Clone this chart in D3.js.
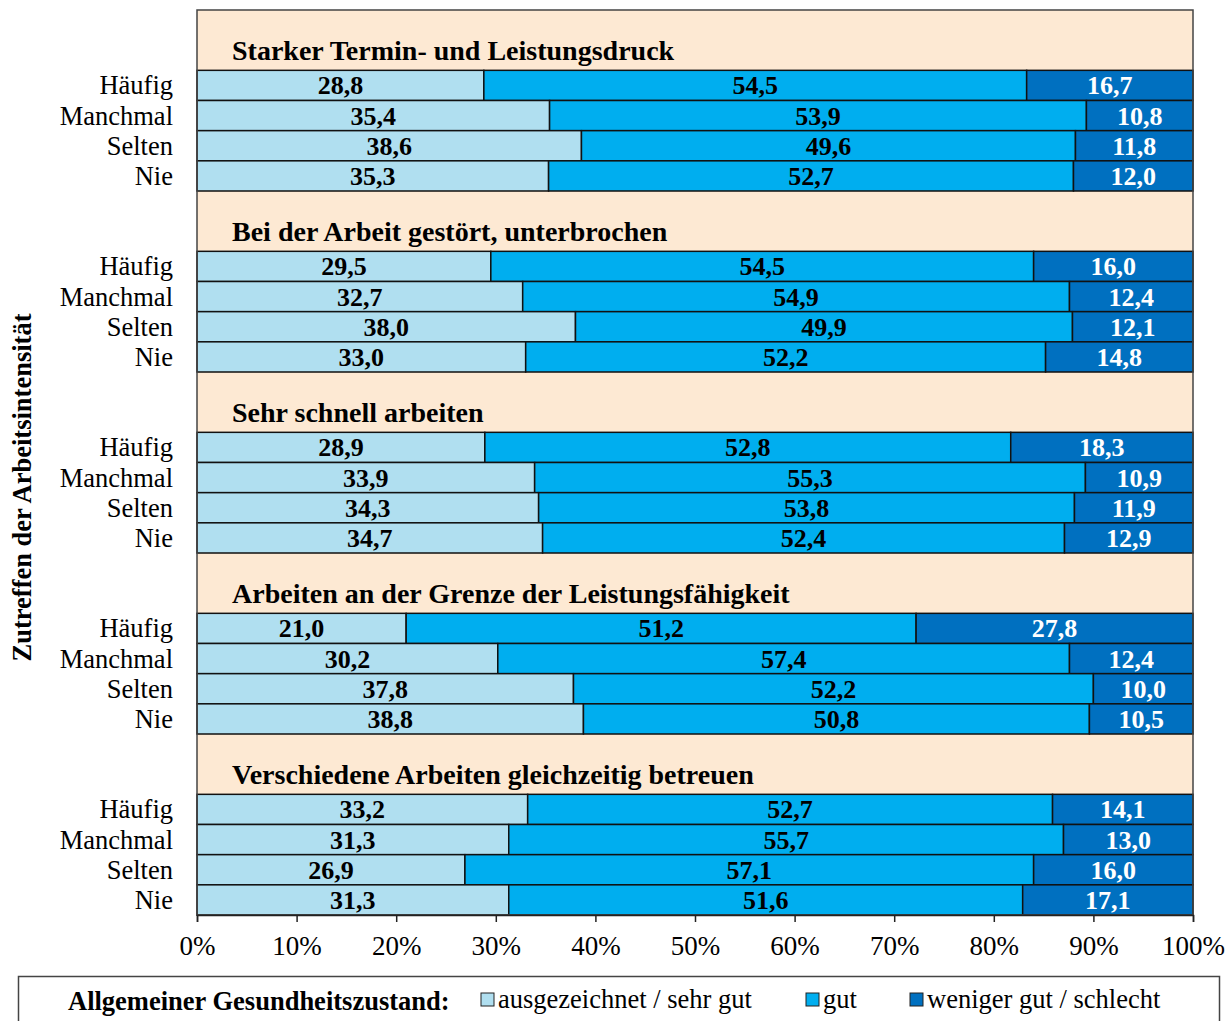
<!DOCTYPE html>
<html>
<head>
<meta charset="utf-8">
<script src="https://cdn.jsdelivr.net/npm/d3@7"></script>
<style>
  body { margin: 0; background: #fff; }
  text { font-family: "Liberation Serif", "Times New Roman", serif; }
</style>
</head>
<body>
<div id="chart"></div>
<script>
// data
var groups = [
  "Starker Termin- und Leistungsdruck",
  "Bei der Arbeit gestört, unterbrochen",
  "Sehr schnell arbeiten",
  "Arbeiten an der Grenze der Leistungsfähigkeit",
  "Verschiedene Arbeiten gleichzeitig betreuen"
];
var rows = ["Häufig", "Manchmal", "Selten", "Nie"];
var series = ["ausgezeichnet / sehr gut", "gut", "weniger gut / schlecht"];
var sehrGut = [28.8, 35.4, 38.6, 35.3, 29.5, 32.7, 38.0, 33.0, 28.9, 33.9, 34.3, 34.7, 21.0, 30.2, 37.8, 38.8, 33.2, 31.3, 26.9, 31.3];
var gut = [54.5, 53.9, 49.6, 52.7, 54.5, 54.9, 49.9, 52.2, 52.8, 55.3, 53.8, 52.4, 51.2, 57.4, 52.2, 50.8, 52.7, 55.7, 57.1, 51.6];
var schlecht = [16.7, 10.8, 11.8, 12.0, 16.0, 12.4, 12.1, 14.8, 18.3, 10.9, 11.9, 12.9, 27.8, 12.4, 10.0, 10.5, 14.1, 13.0, 16.0, 17.1];
var ticks = [0, 10, 20, 30, 40, 50, 60, 70, 80, 90, 100];
var colors = ["#b0dff0", "#00aeef", "#0070c0"];

var svgW = 1227, svgH = 1021;
var margin = {top: 10, right: 34, bottom: 106, left: 197};
var width = svgW - margin.left - margin.right;
var height = svgH - margin.top - margin.bottom;

var svg = d3.select("#chart").append("svg")
  .attr("width", svgW)
  .attr("height", svgH);

var g = svg.append("g")
  .attr("transform", `translate(${margin.left}, ${margin.top})`);

// each group = 2 slots for the title + 4 bar slots
var slots = [];
groups.forEach(function(gr, gi) {
  slots.push("t" + gi + "a", "t" + gi + "b");
  rows.forEach(function(r) { slots.push(gi + "-" + r); });
});

var x = d3.scaleLinear().domain([0, 100]).range([0, width]);
var y = d3.scaleBand().domain(slots).range([0, height]).padding(0);

// background
g.append("rect")
  .attr("width", width).attr("height", height)
  .attr("fill", "#fde9d3");

// build bar records
var bars = [];
groups.forEach(function(gr, gi) {
  rows.forEach(function(r, ri) {
    var i = gi * 4 + ri;
    var vals = [sehrGut[i], gut[i], schlecht[i]];
    var x0 = 0;
    vals.forEach(function(v, si) {
      bars.push({key: gi + "-" + r, s: si, x0: x0, x1: x0 + v, v: v});
      x0 += v;
    });
  });
});

g.selectAll("rect.bar")
  .data(bars)
  .enter().append("rect")
  .attr("class", "bar")
  .attr("x", d => x(d.x0))
  .attr("y", d => y(d.key))
  .attr("width", d => x(Math.min(d.x1, 100)) - x(d.x0))
  .attr("height", y.bandwidth())
  .attr("fill", d => colors[d.s])
  .attr("stroke", "#111")
  .attr("stroke-width", 1.5);

g.selectAll("text.val")
  .data(bars)
  .enter().append("text")
  .attr("class", "val")
  .attr("x", d => x((d.x0 + Math.min(d.x1, 100)) / 2))
  .attr("y", d => y(d.key) + y.bandwidth() / 2 + 9)
  .attr("text-anchor", "middle")
  .attr("font-size", 26)
  .attr("font-weight", "bold")
  .attr("fill", d => d.s === 2 ? "#fff" : "#000")
  .text(d => d3.format(".1f")(d.v).replace(".", ","));

// group titles
g.selectAll("text.title")
  .data(groups)
  .enter().append("text")
  .attr("class", "title")
  .attr("x", 35)
  .attr("y", (d, i) => y("t" + i + "b") + 20)
  .attr("font-size", 28)
  .attr("font-weight", "bold")
  .text(d => d);

// row labels
groups.forEach(function(gr, gi) {
  rows.forEach(function(r) {
    g.append("text")
      .attr("x", -24)
      .attr("y", y(gi + "-" + r) + y.bandwidth() / 2 + 9)
      .attr("text-anchor", "end")
      .attr("font-size", 26.5)
      .text(r);
  });
});

// frame
g.append("rect")
  .attr("width", width).attr("height", height)
  .attr("fill", "none")
  .attr("stroke", "#444")
  .attr("stroke-width", 1.5);

// x axis
var bottomAxis = d3.axisBottom(x).tickValues(ticks).tickSize(7).tickPadding(14).tickFormat(d => d + "%");
var ax = g.append("g")
  .attr("transform", `translate(0, ${height})`)
  .call(bottomAxis);
ax.select(".domain").attr("stroke", "#222").attr("stroke-width", 1.5);
ax.selectAll(".tick line").attr("stroke", "#222").attr("stroke-width", 1.5);
ax.selectAll("text")
  .attr("font-family", "Liberation Serif, serif")
  .attr("font-size", 27)
  .attr("fill", "#000");

// y axis title
svg.append("text")
  .attr("transform", `translate(31, ${margin.top + height / 2 + 25}) rotate(-90)`)
  .attr("text-anchor", "middle")
  .attr("font-size", 26.5)
  .attr("font-weight", "bold")
  .text("Zutreffen der Arbeitsintensität");

// legend
var leg = svg.append("g");
leg.append("rect")
  .attr("x", 18.5).attr("y", 976.5)
  .attr("width", 1201).attr("height", 60)
  .attr("fill", "#fff")
  .attr("stroke", "#444")
  .attr("stroke-width", 1.5);
leg.append("text")
  .attr("x", 68).attr("y", 1010)
  .attr("font-size", 26.5)
  .attr("font-weight", "bold")
  .text("Allgemeiner Gesundheitszustand:");
var legX = [481, 806, 910];
series.forEach(function(s, i) {
  leg.append("rect")
    .attr("x", legX[i]).attr("y", 993)
    .attr("width", 13).attr("height", 13)
    .attr("fill", colors[i])
    .attr("stroke", "#222")
    .attr("stroke-width", 1);
  leg.append("text")
    .attr("x", legX[i] + 17).attr("y", 1008)
    .attr("font-size", 26.5)
    .text(s);
});
</script>
</body>
</html>
